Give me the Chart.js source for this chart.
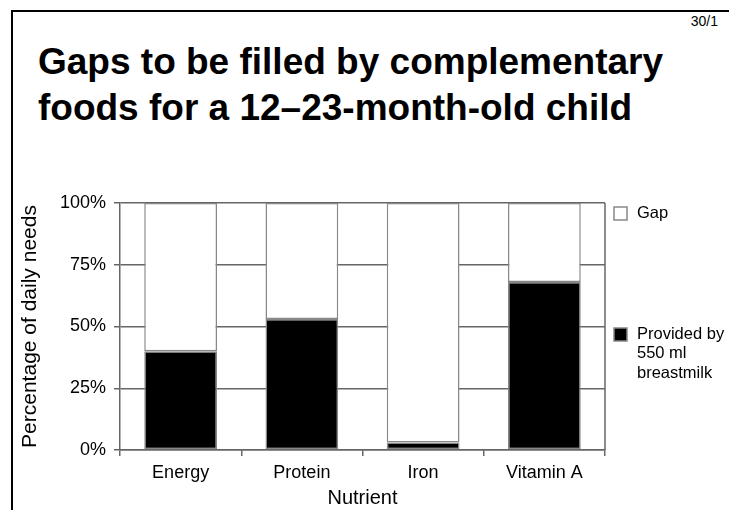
<!DOCTYPE html>
<html>
<head>
<meta charset="utf-8">
<script src="https://cdn.jsdelivr.net/npm/chart.js@4"></script>
<style>
  html, body { margin: 0; padding: 0; background: #fff; }
  #slide { position: relative; width: 729px; height: 510px; overflow: hidden; font-family: "Liberation Sans", Arial, sans-serif; }
  #frameTop { position: absolute; left: 11px; top: 10px; right: 0; height: 2px; background: #000; }
  #frameLeft { position: absolute; left: 11px; top: 10px; bottom: 0; width: 2px; background: #000; }
  #pageNo { position: absolute; right: 11px; top: 13px; font-size: 14px; line-height: 16px; color: #000; }
  #title { position: absolute; left: 38px; top: 39px; font-size: 37px; line-height: 46px; font-weight: bold; color: #000; white-space: nowrap; }
  #meuGrafico { position: absolute; left: 0; top: 0; }
</style>
</head>
<body>
<div id="slide">
  <div id="frameTop"></div>
  <div id="frameLeft"></div>
  <div id="pageNo">30/1</div>
  <div id="title">Gaps to be filled by complementary<br>foods for a 12–23-month-old child</div>
  <canvas id="meuGrafico" width="729" height="510"></canvas>
</div>
<script>
const nutrientes = ["Energy", "Protein", "Iron", "Vitamin A"];
const leiteMaterno = [40, 53, 3, 68];
const lacuna = [60, 47, 97, 32];
const ticksY = [0, 25, 50, 75, 100];

const fonte = "'Liberation Sans', Arial, sans-serif";
const corGrade = "#666";

// legenda desenhada a mao (Gap em cima, leite materno no meio)
const legendaLateral = {
  id: "legendaLateral",
  afterDraw(chart) {
    const c = chart.ctx;
    const area = chart.chartArea;
    const itens = [
      { ds: chart.data.datasets[1], y: area.top + 10 },
      { ds: chart.data.datasets[0], y: area.top + 131 },
    ];
    c.save();
    c.font = "16.5px " + fonte;
    c.textBaseline = "middle";
    c.textAlign = "left";
    itens.forEach((it) => {
      const x = area.right + 9;
      c.fillStyle = it.ds.backgroundColor;
      c.fillRect(x, it.y - 6, 13, 13);
      c.strokeStyle = "#888";
      c.lineWidth = 1.5;
      c.strokeRect(x, it.y - 6, 13, 13);
      c.fillStyle = "#000";
      const linhas = Array.isArray(it.ds.label) ? it.ds.label : [it.ds.label];
      linhas.forEach((t, i) => c.fillText(t, x + 23, it.y + i * 19.5));
    });
    // borda direita da area do grafico
    c.strokeStyle = corGrade;
    c.lineWidth = 1.5;
    c.beginPath();
    c.moveTo(area.right, area.top);
    c.lineTo(area.right, area.bottom);
    c.stroke();
    c.restore();
  },
};

const ctx = document.getElementById("meuGrafico").getContext("2d");
const meuGrafico = new Chart(ctx, {
  type: "bar",
  data: {
    labels: nutrientes,
    datasets: [
      {
        label: ["Provided by", "550 ml", "breastmilk"],
        data: leiteMaterno,
        backgroundColor: "#000",
        borderColor: "#888",
        borderWidth: 1.5,
        borderSkipped: false,
      },
      {
        label: "Gap",
        data: lacuna,
        backgroundColor: "#fff",
        borderColor: "#888",
        borderWidth: 1.5,
        borderSkipped: false,
      },
    ],
  },
  options: {
    responsive: false,
    animation: false,
    layout: { padding: { left: 14, top: 203, right: 124, bottom: 0 } },
    datasets: { bar: { categoryPercentage: 1, barPercentage: 0.6 } },
    plugins: {
      legend: { display: false },
      tooltip: { enabled: false },
    },
    scales: {
      x: {
        stacked: true,
        afterFit: (scale) => {
          scale.height = 60;
        },
        grid: { drawOnChartArea: false, drawTicks: true, tickLength: 6, color: corGrade, lineWidth: 1.5 },
        border: { color: corGrade, width: 1.5 },
        ticks: { color: "#000", font: { family: fonte, size: 18 }, padding: 6 },
        title: { display: true, text: "Nutrient", color: "#000", font: { family: fonte, size: 20 }, padding: { top: 0, bottom: 0 } },
      },
      y: {
        stacked: true,
        min: 0,
        max: 100,
        afterBuildTicks: (scale) => {
          scale.ticks = ticksY.map((v) => ({ value: v }));
        },
        afterFit: (scale) => {
          scale.width = 106;
        },
        grid: { color: corGrade, lineWidth: 1.5, tickLength: 6 },
        border: { color: corGrade, width: 1.5 },
        ticks: {
          color: "#000",
          font: { family: fonte, size: 18 },
          padding: 8,
          callback: (v) => v + "%",
        },
        title: { display: true, text: "Percentage of daily needs", color: "#000", font: { family: fonte, size: 21 }, padding: { top: 4, bottom: 4 } },
      },
    },
  },
  plugins: [legendaLateral],
});
</script>
</body>
</html>
